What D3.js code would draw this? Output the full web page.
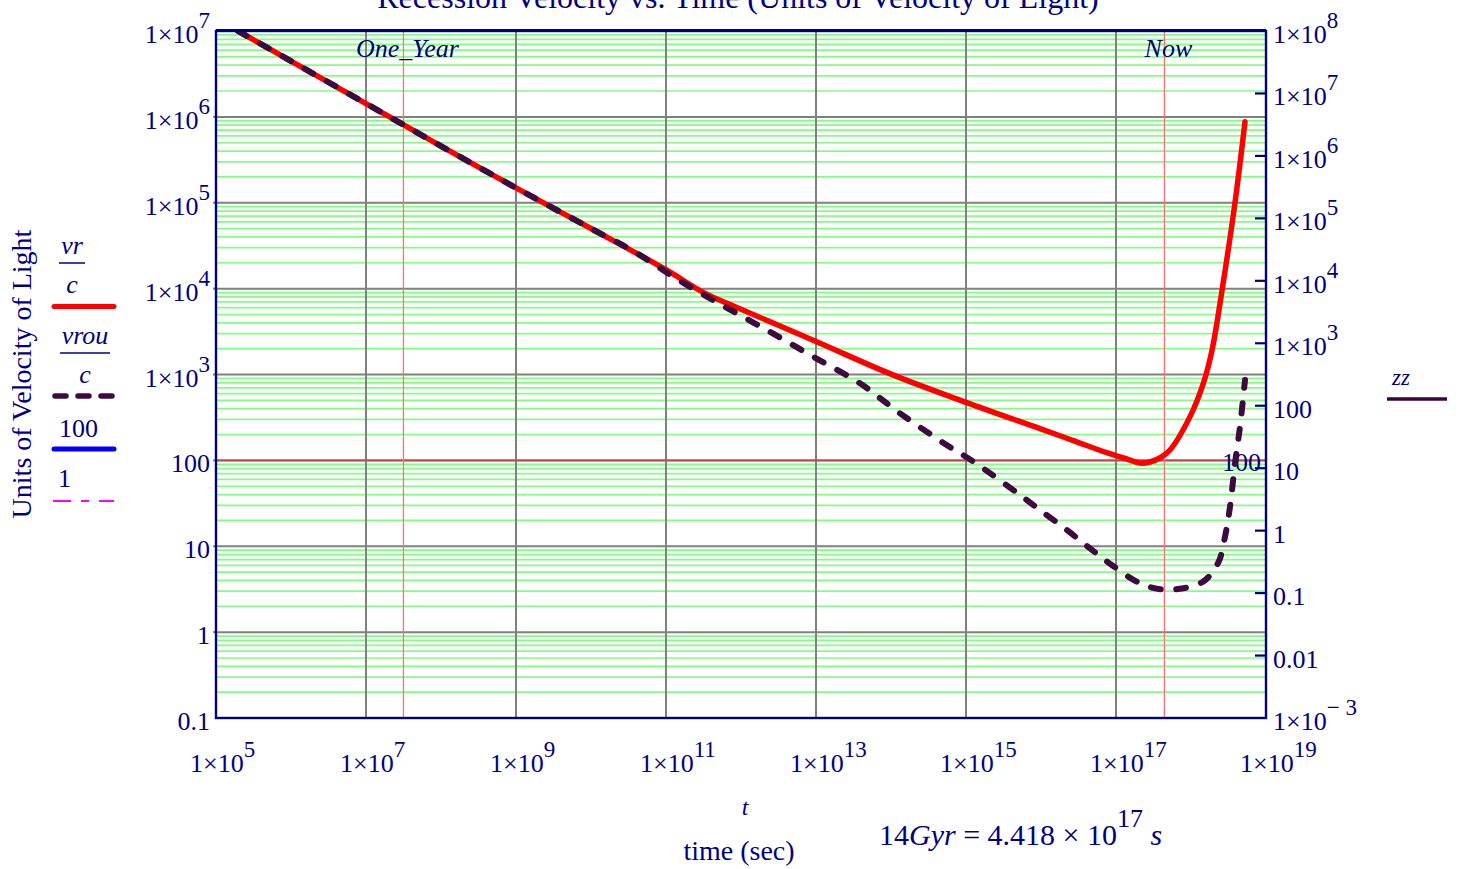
<!DOCTYPE html>
<html><head><meta charset="utf-8">
<script src="https://cdn.jsdelivr.net/npm/d3@7"></script>
<style>
body{margin:0;background:#fff}
text{font-family:"Liberation Serif","Times New Roman",serif;fill:#000080}
</style>
</head><body>
<svg id="c" width="1463" height="869"></svg>
<script>
// ---- data ----
const redT = [1.963e5, 1e6, 1e7, 1e8, 1e9, 1e10, 1e11, 3.09e11, 1e12, 1.02e13, 1e14, 1e15, 9.70e15, 2.70e16, 7.52e16, 1.26e17, 2.09e17, 2.84e17, 4.06e17, 5.25e17, 9.70e17, 1.46e18, 1.91e18, 2.61e18, 3.86e18, 5.25e18];
const redV = [1.0e7, 4.47e6, 1.43e6, 4.57e5, 1.49e5, 5.01e4, 1.66e4, 9.12e3, 5.75e3, 2.41e3, 1.01e3, 474, 234, 170, 123, 107, 93, 95.7, 110, 132, 323, 789, 1.93e3, 9.91e3, 1.0e5, 8.79e5];
const dashT = [1.963e5, 1e6, 1e7, 1e8, 1e9, 1e10, 3.63e10, 1.39e11, 5.25e11, 2.20e12, 9.20e12, 3.86e13, 1.32e14, 5.52e14, 1.26e15, 5.25e15, 9.70e15, 2.20e16, 4.50e16, 8.77e16, 2.09e17, 3.86e17, 7.13e17, 1.46e18, 2.31e18, 2.84e18, 3.31e18, 3.86e18, 4.50e18, 5.25e18];
const dashV = [1.0e7, 4.47e6, 1.43e6, 4.57e5, 1.49e5, 5.01e4, 2.75e4, 1.30e4, 6.61e3, 3.30e3, 1.61e3, 789, 353, 151, 96.6, 39.5, 26.4, 15.5, 9.46, 6.05, 3.70, 3.16, 3.20, 3.89, 6.46, 12.9, 28.8, 92.5, 247, 863];
const xTickExp = [5, 7, 9, 11, 13, 15, 17, 19];
const xGridExp = [7, 9, 11, 13, 15, 17];
const yLeftExp = [-1, 0, 1, 2, 3, 4, 5, 6, 7];
const yRightExp = [-3, -2, -1, 0, 1, 2, 3, 4, 5, 6, 7, 8];
const markerXLabels = ["One_Year", "Now"];
const markerXValues = [3.156e7, 4.418e17];
const markerYValue = 100;
const legendLabels = [["vr", "c"], ["vrou", "c"], ["100"], ["1"]];

// ---- layout ----
const L = 216, R = 1266, T = 31, B = 718;
const NAVY = "#000080";
const svg = d3.select("#c");
const x = d3.scaleLog().domain([1e5, 1e19]).range([L, R]);
const yL = d3.scaleLog().domain([0.1, 1e7]).range([B, T]);
const yR = d3.scaleLog().domain([1e-3, 1e8]).range([B, T]);

svg.append("clipPath").attr("id", "clip").append("rect")
  .attr("x", L).attr("y", T).attr("width", R - L).attr("height", B - T);

const g = svg.append("g");
// minor green grid
const minor = [];
yLeftExp.slice(0, -1).forEach(e => { for (let k = 2; k <= 9; k++) minor.push(k * Math.pow(10, e)); });
g.selectAll(".mn").data(minor).join("line")
  .attr("x1", L).attr("x2", R).attr("y1", d => yL(d)).attr("y2", d => yL(d))
  .attr("stroke", "#80ff80").attr("stroke-width", 1.7);
// major gray grid
g.selectAll(".mj").data(yLeftExp.slice(1, -1).map(e => Math.pow(10, e))).join("line")
  .attr("x1", L).attr("x2", R).attr("y1", d => yL(d)).attr("y2", d => yL(d))
  .attr("stroke", "#808080").attr("stroke-width", 2);
g.selectAll(".vx").data(xGridExp.map(e => Math.pow(10, e))).join("line")
  .attr("y1", T).attr("y2", B).attr("x1", d => x(d)).attr("x2", d => x(d))
  .attr("stroke", "#808080").attr("stroke-width", 2);
// left axis small ticks
g.selectAll(".lt").data(yLeftExp.slice(1, -1).map(e => Math.pow(10, e))).join("line")
  .attr("x1", L - 3).attr("x2", L).attr("y1", d => yL(d)).attr("y2", d => yL(d))
  .attr("stroke", "#808080").attr("stroke-width", 2);
// marker lines
g.append("line").attr("x1", L).attr("x2", R).attr("y1", yL(markerYValue)).attr("y2", yL(markerYValue))
  .attr("stroke", "#c04848").attr("stroke-width", 1.6);
g.selectAll(".mx").data(markerXValues).join("line")
  .attr("y1", T).attr("y2", B).attr("x1", d => x(d)).attr("x2", d => x(d))
  .attr("stroke", "#ff7070").attr("stroke-width", 1.3);
// marker labels
markerXLabels.forEach((s, i) => {
  svg.append("text").attr("x", x(markerXValues[i]) + 4).attr("y", 57)
    .attr("text-anchor", "middle").attr("font-style", "italic").attr("font-size", 26).text(s);
});
svg.append("text").attr("x", 1261).attr("y", 471).attr("text-anchor", "end")
  .attr("font-size", 26).text(String(markerYValue));

// curves
const line = d3.line().x(d => x(d[0])).y(d => yL(d[1])).curve(d3.curveCatmullRom.alpha(0.5));
const cg = svg.append("g").attr("clip-path", "url(#clip)");
cg.append("path").attr("d", line(redT.map((t, i) => [t, redV[i]])))
  .attr("fill", "none").attr("stroke", "#ff0000").attr("stroke-width", 5.5).attr("stroke-linecap", "round");
cg.append("path").attr("d", line(dashT.map((t, i) => [t, dashV[i]])))
  .attr("fill", "none").attr("stroke", "#3e0a40").attr("stroke-width", 6).attr("stroke-linecap", "round")
  .attr("stroke-dasharray", "10,15.5");

// frame
svg.append("rect").attr("x", L).attr("y", T).attr("width", R - L).attr("height", B - T)
  .attr("fill", "none").attr("stroke", NAVY).attr("stroke-width", 2.4);
svg.append("line").attr("x1", L).attr("x2", R).attr("y1", T - 0.5).attr("y2", T - 0.5)
  .attr("stroke", NAVY).attr("stroke-width", 3);

// tick labels
function powLabel(sel, e) {
  if (Math.abs(e) <= 2) { sel.append("tspan").text(String(Math.pow(10, e))); return; }
  sel.append("tspan").text("1×10");
  sel.append("tspan").attr("dy", -15).attr("font-size", 23).text(e < 0 ? "\u2212 " + (-e) : String(e));
}
yLeftExp.forEach(e => {
  const t = svg.append("text").attr("x", 210).attr("y", yL(Math.pow(10, e)) + 12)
    .attr("text-anchor", "end").attr("font-size", 26);
  powLabel(t, e);
});
// right axis ticks
svg.selectAll(".rt").data(yRightExp.slice(1, -1)).join("line")
  .attr("x1", R - 11).attr("x2", R).attr("y1", d => yR(Math.pow(10, d))).attr("y2", d => yR(Math.pow(10, d)))
  .attr("stroke", NAVY).attr("stroke-width", 2.2);
yRightExp.forEach(e => {
  const t = svg.append("text").attr("x", 1273).attr("y", yR(Math.pow(10, e)) + 12).attr("font-size", 26);
  powLabel(t, e);
});
xTickExp.forEach(e => {
  const t = svg.append("text").attr("x", x(Math.pow(10, e)) - 26).attr("y", 772).attr("font-size", 26);
  powLabel(t, e);
});

// titles
svg.append("text").attr("x", 738).attr("y", 8).attr("text-anchor", "middle").attr("font-size", 32)
  .text("Recession Velocity vs. Time (Units of Velocity of Light)");
svg.append("text").attr("transform", "translate(31,374) rotate(-90)").attr("text-anchor", "middle")
  .attr("font-size", 28).text("Units of Velocity of Light");
svg.append("text").attr("x", 745).attr("y", 815).attr("text-anchor", "middle")
  .attr("font-style", "italic").attr("font-size", 24).text("t");
svg.append("text").attr("x", 739).attr("y", 860).attr("text-anchor", "middle")
  .attr("font-size", 28).text("time (sec)");
const eq = svg.append("text").attr("x", 879).attr("y", 845).attr("font-size", 30);
eq.append("tspan").text("14");
eq.append("tspan").attr("font-style", "italic").text("Gyr");
eq.append("tspan").text(" = 4.418 × 10");
eq.append("tspan").attr("dy", -18).attr("font-size", 26).text("17");
eq.append("tspan").attr("dy", 18).attr("font-style", "italic").text(" s");

// legend
function frac(cx, top, num, den, w) {
  svg.append("text").attr("x", cx).attr("y", top).attr("text-anchor", "middle")
    .attr("font-style", "italic").attr("font-size", 26).text(num);
  svg.append("line").attr("x1", cx - w / 2).attr("x2", cx + w / 2).attr("y1", top + 9).attr("y2", top + 9)
    .attr("stroke", NAVY).attr("stroke-width", 1.5);
  svg.append("text").attr("x", cx).attr("y", top + 39).attr("text-anchor", "middle")
    .attr("font-style", "italic").attr("font-size", 26).text(den);
}
frac(72, 254, legendLabels[0][0], legendLabels[0][1], 26);
svg.append("line").attr("x1", 54).attr("x2", 114).attr("y1", 306.5).attr("y2", 306.5)
  .attr("stroke", "#ff0000").attr("stroke-width", 5).attr("stroke-linecap", "round");
frac(85, 344, legendLabels[1][0], legendLabels[1][1], 50);
svg.append("line").attr("x1", 55).attr("x2", 113).attr("y1", 396).attr("y2", 396)
  .attr("stroke", "#3e0a40").attr("stroke-width", 5.5).attr("stroke-linecap", "round").attr("stroke-dasharray", "11,12");
svg.append("text").attr("x", 59).attr("y", 437).attr("font-size", 26).text(legendLabels[2][0]);
svg.append("line").attr("x1", 54).attr("x2", 114).attr("y1", 449).attr("y2", 449)
  .attr("stroke", "#0000ff").attr("stroke-width", 5).attr("stroke-linecap", "round");
svg.append("text").attr("x", 58).attr("y", 487).attr("font-size", 26).text(legendLabels[3][0]);
svg.append("line").attr("x1", 53).attr("x2", 114).attr("y1", 501).attr("y2", 501)
  .attr("stroke", "#ff00ff").attr("stroke-width", 1.8).attr("stroke-dasharray", "18,10,8,10");
// zz legend
svg.append("text").attr("x", 1401).attr("y", 385).attr("text-anchor", "middle")
  .attr("font-style", "italic").attr("font-size", 23).text("zz");
svg.append("line").attr("x1", 1387).attr("x2", 1447).attr("y1", 399).attr("y2", 399)
  .attr("stroke", "#400040").attr("stroke-width", 3.3);
</script>
</body></html>
